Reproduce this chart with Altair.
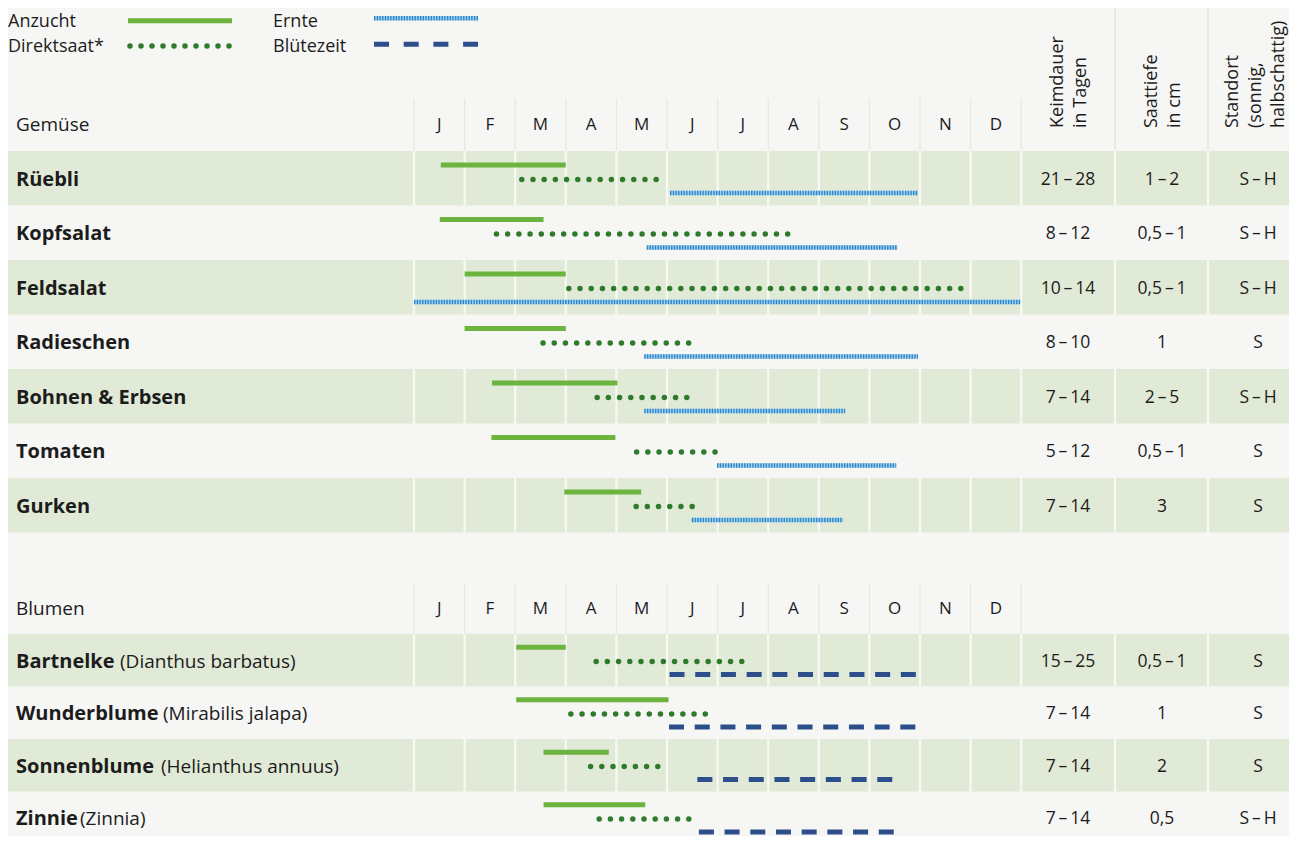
import altair as alt
import pandas as pd

# ---------------- data ----------------
months = ["J", "F", "M", "A", "M", "J", "J", "A", "S", "O", "N", "D"]

gemuese = ["Rüebli", "Kopfsalat", "Feldsalat", "Radieschen", "Bohnen & Erbsen", "Tomaten", "Gurken"]
g_anz_start = [0.53, 0.51, 1.0, 1.0, 1.54, 1.53, 2.97]
g_anz_end = [3.0, 2.56, 3.0, 3.0, 4.02, 3.98, 4.49]
g_dir_start = [2.13, 1.63, 3.06, 2.55, 3.62, 4.40, 4.39]
g_dir_end = [4.97, 7.53, 10.99, 5.45, 5.49, 5.95, 5.57]
g_ern_start = [5.06, 4.60, 0.0, 4.55, 4.55, 5.99, 5.49]
g_ern_end = [9.96, 9.55, 11.98, 9.96, 8.52, 9.53, 8.48]
g_keim = ["21\u2009–\u200928", "8\u2009–\u200912", "10\u2009–\u200914", "8\u2009–\u200910",
          "7\u2009–\u200914", "5\u2009–\u200912", "7\u2009–\u200914"]
g_tiefe = ["1\u2009–\u20092", "0,5\u2009–\u20091", "0,5\u2009–\u20091", "1", "2\u2009–\u20095",
           "0,5\u2009–\u20091", "3"]
g_ort = ["S\u2009–\u2009H", "S\u2009–\u2009H", "S\u2009–\u2009H", "S", "S\u2009–\u2009H", "S", "S"]

blumen = ["Bartnelke", "Wunderblume", "Sonnenblume", "Zinnie"]
b_latin = ["(Dianthus barbatus)", "(Mirabilis jalapa)", "(Helianthus annuus)", "(Zinnia)"]
b_anz_start = [2.02, 2.02, 2.56, 2.56]
b_anz_end = [3.0, 5.03, 3.85, 4.57]
b_dir_start = [3.60, 3.10, 3.49, 3.66]
b_dir_end = [6.62, 5.95, 4.82, 5.51]
b_blu_start = [5.05, 5.04, 5.60, 5.63]
b_blu_end = [10.0, 10.0, 9.58, 9.58]
b_keim = ["15\u2009–\u200925", "7\u2009–\u200914", "7\u2009–\u200914", "7\u2009–\u200914"]
b_tiefe = ["0,5\u2009–\u20091", "1", "2", "0,5"]
b_ort = ["S", "S", "S", "S\u2009–\u2009H"]

header_keim = ["Keimdauer", "in Tagen"]
header_tiefe = ["Saattiefe", "in cm"]
header_ort = ["Standort", "(sonnig,", "halbschattig)"]

# ---------------- layout ----------------
W, H = 1281, 828
X_DOM = [-8.0237, 17.2925]
Y_DOM = [-2.6239, 12.5688]
B_TOP, B_STEP = 8.862, 0.9633          # flower block position / row height (row units)
FONT = "Open Sans"
BG = "#f6f6f5"
BAND = "#e1ead6"
LINE = "#f8f9f5"
C_ANZ = "#6cb33f"
C_DIR = "#2e7b2c"
C_ERN_BASE = "#a8d1ee"
C_ERN = "#2c88cc"
C_BLU = "#2c4e8a"
TXT = "#1c1c1c"
DY = 1.5
OFF_A, OFF_D, OFF_E = 0.255, 0.525, 0.77
COL_KEIM, COL_TIEFE, COL_ORT = 1060, 1154, 1250
EDGE_1, EDGE_2 = 1107, 1200
LATIN_X = {"Bartnelke": 112, "Wunderblume": 155, "Sonnenblume": 153, "Zinnie": 72}


def X(f):
    return alt.X(f, type="quantitative", axis=None,
                 scale=alt.Scale(domain=X_DOM, nice=False, zero=False))


def Y(f):
    return alt.Y(f, type="quantitative", axis=None,
                 scale=alt.Scale(domain=Y_DOM, nice=False, zero=False, reverse=True))


g = pd.DataFrame({
    "name": gemuese, "top": [float(i) for i in range(len(gemuese))], "h": 1.0,
    "a0": g_anz_start, "a1": g_anz_end, "d0": g_dir_start, "d1": g_dir_end,
    "e0": g_ern_start, "e1": g_ern_end, "keim": g_keim, "tiefe": g_tiefe, "ort": g_ort,
    "idx": list(range(len(gemuese))), "grp": "g",
})
b = pd.DataFrame({
    "name": blumen, "latin": b_latin,
    "top": [B_TOP + i * B_STEP for i in range(len(blumen))], "h": B_STEP,
    "a0": b_anz_start, "a1": b_anz_end, "d0": b_dir_start, "d1": b_dir_end,
    "e0": b_blu_start, "e1": b_blu_end, "keim": b_keim, "tiefe": b_tiefe, "ort": b_ort,
    "idx": list(range(len(blumen))), "grp": "b",
})
allrows = pd.concat([g, b], ignore_index=True)
allrows["ya"] = allrows["top"] + OFF_A * allrows["h"]
allrows["yd"] = allrows["top"] + OFF_D * allrows["h"]
allrows["ye"] = allrows["top"] + OFF_E * allrows["h"]
allrows["yc"] = allrows["top"] + 0.5 * allrows["h"]
allrows["bot"] = allrows["top"] + allrows["h"]
green = allrows[allrows["idx"] % 2 == 0].copy()
gr = allrows[allrows["grp"] == "g"]
br = allrows[allrows["grp"] == "b"]

grid = pd.DataFrame([{"m": m, "top": t, "bot": bt}
                     for t, bt in zip(green["top"], green["bot"]) for m in range(13)])
hdr = [(-1.0, 0.0), (B_TOP - B_STEP, B_TOP)]
hgrid = pd.DataFrame([{"m": m, "top": t + 0.03, "bot": bt} for t, bt in hdr for m in range(13)])
heads = pd.DataFrame([{"m": i + 0.5, "y": (t + bt) / 2, "t": months[i]}
                      for t, bt in hdr for i in range(12)])
sect = pd.DataFrame({"t": ["Gemüse", "Blumen"], "y": [(t + bt) / 2 for t, bt in hdr]})

layers = []
layers.append(alt.Chart(green).mark_rect(color=BAND, clip=True).encode(
    x=alt.value(0), x2=alt.value(W), y=Y("top"), y2=alt.Y2("bot")))
layers.append(alt.Chart(grid).mark_rule(color=LINE, strokeWidth=2.2, clip=True).encode(
    x=X("m"), y=Y("top"), y2=alt.Y2("bot")))
for ex in (EDGE_1, EDGE_2):
    layers.append(alt.Chart(green).mark_rule(color=LINE, strokeWidth=2.2, clip=True).encode(
        x=alt.value(ex), y=Y("top"), y2=alt.Y2("bot")))
layers.append(alt.Chart(hgrid).mark_rule(color="#e4eadc", strokeWidth=1.2).encode(
    x=X("m"), y=Y("top"), y2=alt.Y2("bot")))
top = pd.DataFrame({"r0": [Y_DOM[0]], "r1": [0.0]})
for ex in (EDGE_1, EDGE_2):
    layers.append(alt.Chart(top).mark_rule(color="#e1e9d9", strokeWidth=1.4).encode(
        x=alt.value(ex), y=Y("r0"), y2=alt.Y2("r1")))

# bars
layers.append(alt.Chart(allrows).mark_rule(color=C_ANZ, strokeWidth=5).encode(
    x=X("a0"), x2=alt.X2("a1"), y=Y("ya")))
layers.append(alt.Chart(allrows).mark_rule(color=C_DIR, strokeWidth=5.5, strokeCap="round",
                                           strokeDash=[0, 11.2]).encode(
    x=X("d0"), x2=alt.X2("d1"), y=Y("yd")))
layers.append(alt.Chart(gr).mark_rule(color=C_ERN_BASE, strokeWidth=4.5).encode(
    x=X("e0"), x2=alt.X2("e1"), y=Y("ye")))
layers.append(alt.Chart(gr).mark_rule(color=C_ERN, strokeWidth=4.5, strokeDash=[1.4, 1.3]).encode(
    x=X("e0"), x2=alt.X2("e1"), y=Y("ye")))
layers.append(alt.Chart(br).mark_rule(color=C_BLU, strokeWidth=5, strokeDash=[15, 10.7]).encode(
    x=X("e0"), x2=alt.X2("e1"), y=Y("ye")))

# row labels
layers.append(alt.Chart(allrows).mark_text(font=FONT, fontSize=20, fontWeight="bold", color=TXT,
                                           align="left", baseline="middle", dy=DY).encode(
    x=alt.value(8), y=Y("yc"), text="name:N"))
for nm, lx in LATIN_X.items():
    layers.append(alt.Chart(br[br["name"] == nm]).mark_text(
        font=FONT, fontSize=19, color=TXT, align="left", baseline="middle", dy=DY).encode(
        x=alt.value(lx), y=Y("yc"), text="latin:N"))
for col, cx in (("keim", COL_KEIM), ("tiefe", COL_TIEFE), ("ort", COL_ORT)):
    layers.append(alt.Chart(allrows).mark_text(font=FONT, fontSize=17.5, color=TXT,
                                               align="center", baseline="middle", dy=DY).encode(
        x=alt.value(cx), y=Y("yc"), text=f"{col}:N"))

layers.append(alt.Chart(sect).mark_text(font=FONT, fontSize=19, color=TXT, align="left",
                                        baseline="middle", dy=DY).encode(
    x=alt.value(8), y=Y("y"), text="t:N"))
layers.append(alt.Chart(heads).mark_text(font=FONT, fontSize=17, color=TXT, align="center",
                                         baseline="middle", dy=DY).encode(
    x=X("m"), y=Y("y"), text="t:N"))

one = pd.DataFrame({"k": [0]})
for lines, bx in ((header_keim, 1055), (header_tiefe, 1149), (header_ort, 1230)):
    layers.append(alt.Chart(one).mark_text(font=FONT, fontSize=18, color=TXT, angle=270,
                                           align="left", baseline="alphabetic", lineHeight=23,
                                           text=lines).encode(
        x=alt.value(bx), y=alt.value(120)))

# legend
leg_txt = [("Anzucht", 0, 13.5), ("Direktsaat*", 0, 39), ("Ernte", 265, 13.5), ("Blütezeit", 265, 39)]
for t, lx, ly in leg_txt:
    layers.append(alt.Chart(one).mark_text(font=FONT, fontSize=18, color=TXT, align="left",
                                           baseline="middle", text=t).encode(
        x=alt.value(lx), y=alt.value(ly)))
layers.append(alt.Chart(one).mark_rule(color=C_ANZ, strokeWidth=5).encode(
    x=alt.value(120), x2=alt.value(224), y=alt.value(12.7)))
layers.append(alt.Chart(one).mark_rule(color=C_DIR, strokeWidth=5.5, strokeCap="round",
                                       strokeDash=[0, 11]).encode(
    x=alt.value(122), x2=alt.value(221.5), y=alt.value(38)))
layers.append(alt.Chart(one).mark_rule(color=C_ERN_BASE, strokeWidth=4.5).encode(
    x=alt.value(366), x2=alt.value(470), y=alt.value(10.3)))
layers.append(alt.Chart(one).mark_rule(color=C_ERN, strokeWidth=4.5, strokeDash=[1.4, 1.3]).encode(
    x=alt.value(366), x2=alt.value(470), y=alt.value(10.3)))
layers.append(alt.Chart(one).mark_rule(color=C_BLU, strokeWidth=5, strokeDash=[15, 14.7]).encode(
    x=alt.value(366), x2=alt.value(470), y=alt.value(36.3)))

chart = alt.layer(*layers).properties(
    width=W, height=H, padding=0, autosize="none", background=BG
).configure_view(stroke=None)

chart.save("out.html", embed_options={"renderer": "svg", "actions": False})
